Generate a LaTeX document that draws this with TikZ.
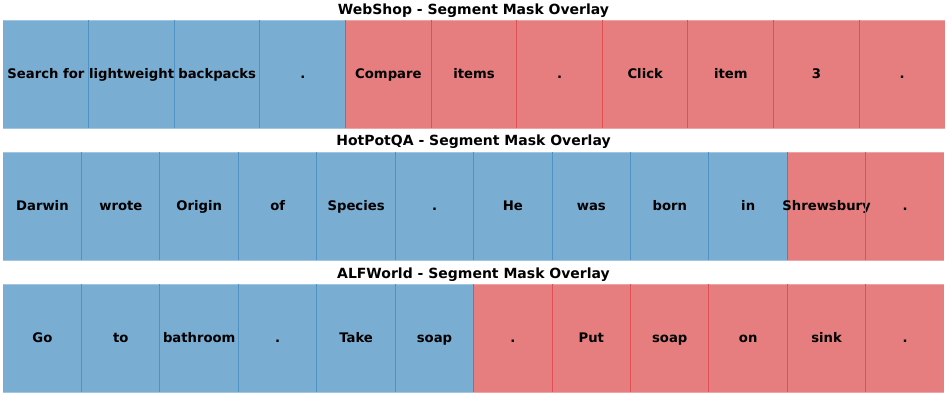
\documentclass[tikz,border=0pt]{standalone}
\usepackage{fontspec}
\setmainfont{DejaVu Sans}
\definecolor{bfill}{RGB}{121,173,210}
\definecolor{rfill}{RGB}{230,125,126}
\definecolor{bedge}{RGB}{80,146,196}
\definecolor{redge}{RGB}{222,80,82}
\tikzset{
  cellbase/.style={inner sep=0pt, anchor=north west, minimum height=107.5pt},
  cellb/.style={cellbase, fill=bfill},
  cellr/.style={cellbase, fill=rfill},
  divb/.style={draw=bedge, line width=0.7pt},
  divr/.style={draw=redge, line width=0.7pt},
  rimb/.style={draw=bfill!70!white, line width=0.6pt},
  rimr/.style={draw=rfill!70!white, line width=0.6pt},
  word/.style={inner sep=0pt, anchor=base, font=\bfseries\fontsize{13.2}{15}\selectfont},
  ttl/.style={inner sep=0pt, anchor=base, font=\bfseries\fontsize{14}{16}\selectfont}
}
\newcommand{\cellrims}[2]{%
  \draw[rim#2] (#1.north west) -- (#1.north east);
  \draw[rim#2] (#1.south west) -- (#1.south east);
}
\begin{document}
\begin{tikzpicture}[x=1pt,y=-1pt]
\useasboundingbox (0,0) rectangle (947,395);
% titles
\node[ttl] (t1) at (473.5,14.2) {WebShop - Segment Mask Overlay};
\node[ttl] (t2) at (473.5,146) {HotPotQA - Segment Mask Overlay};
\node[ttl] (t3) at (473.5,278) {ALFWorld - Segment Mask Overlay};
% row 1
\foreach \w/\c [count=\i] in {Search for/b, lightweight/b, backpacks/b, ./b, Compare/r, items/r, ./r, Click/r, item/r, 3/r, ./r}{
  \node[cell\c, minimum width=85.6pt] (w\i) at ({3+(\i-1)*85.6},20.5) {};
  \cellrims{w\i}{\c}
}
\foreach \w/\c [count=\i] in {Search for/b, lightweight/b, backpacks/b, ./b, Compare/r, items/r, ./r, Click/r, item/r, 3/r, ./r}{
  \ifnum\i>1 \draw[div\c] (w\i.north west) -- (w\i.south west); \fi
  \node[word] (wt\i) at ([yshift=-4.4pt]w\i.center) {\w};
}
% row 2
\foreach \w/\c [count=\i] in {Darwin/b, wrote/b, Origin/b, of/b, Species/b, ./b, He/b, was/b, born/b, in/b, Shrewsbury/r, ./r}{
  \node[cell\c, minimum width=78.42pt] (h\i) at ({3+(\i-1)*78.42},152.3) {};
  \cellrims{h\i}{\c}
}
\foreach \w/\c [count=\i] in {Darwin/b, wrote/b, Origin/b, of/b, Species/b, ./b, He/b, was/b, born/b, in/b, Shrewsbury/r, ./r}{
  \ifnum\i>1 \draw[div\c] (h\i.north west) -- (h\i.south west); \fi
  \node[word] (ht\i) at ([yshift=-4.4pt]h\i.center) {\w};
}
% row 3
\foreach \w/\c [count=\i] in {Go/b, to/b, bathroom/b, ./b, Take/b, soap/b, ./r, Put/r, soap/r, on/r, sink/r, ./r}{
  \node[cell\c, minimum width=78.42pt] (a\i) at ({3+(\i-1)*78.42},284) {};
  \cellrims{a\i}{\c}
}
\foreach \w/\c [count=\i] in {Go/b, to/b, bathroom/b, ./b, Take/b, soap/b, ./r, Put/r, soap/r, on/r, sink/r, ./r}{
  \ifnum\i>1 \draw[div\c] (a\i.north west) -- (a\i.south west); \fi
  \node[word] (at\i) at ([yshift=-4.4pt]a\i.center) {\w};
}
\end{tikzpicture}
\end{document}
